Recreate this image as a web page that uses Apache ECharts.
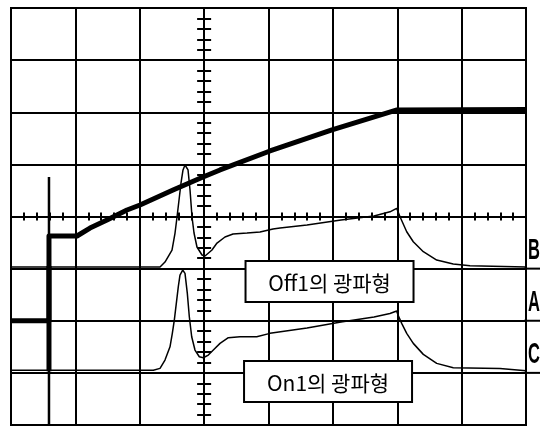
<!DOCTYPE html>
<html>
<head>
<meta charset="utf-8">
<script src="https://cdn.jsdelivr.net/npm/echarts@6/dist/echarts.min.js"></script>
<style>
html,body{margin:0;padding:0;background:#fff;}
#chart{width:548px;height:430px;}
</style>
</head>
<body>
<div id="chart"></div>
<script>
// Screen divisions: x from -3 to 5, y from -4 to 4 (0,0 = ticked centre axes)
const xDivisions = [-3, 5];
const yDivisions = [-4, 4];

// Channel A: thick ramp trace
const traceA = [
  [-3, -2.0], [-2.41, -2.0], [-2.41, -0.374], [-1.975, -0.374], [-1.773, -0.221],
  [-1.509, -0.067], [-1.198, 0.125], [-0.996, 0.221], [-0.483, 0.509], [-0.017, 0.758],
  [0.247, 0.893], [1.023, 1.257], [1.986, 1.660], [2.996, 2.044], [5, 2.054]
];

// Channel B: Off1 optical waveform
const traceOff1 = [
  [-3, -0.97], [-2.41, -0.97], [-0.685, -0.97], [-0.608, -0.873], [-0.499, -0.643],
  [-0.452, -0.317], [-0.421, -0.010], [-0.390, 0.317], [-0.359, 0.643], [-0.328, 0.893],
  [-0.297, 0.988], [-0.250, 0.893], [-0.219, 0.509], [-0.188, -0.010], [-0.157, -0.317],
  [-0.111, -0.585], [-0.033, -0.739], [0.014, -0.758], [0.122, -0.643], [0.200, -0.509],
  [0.324, -0.393], [0.449, -0.336], [0.666, -0.317], [0.868, -0.297], [1.070, -0.240],
  [1.179, -0.221], [1.598, -0.163], [2.126, -0.067], [2.639, 0.010], [2.887, 0.090],
  [2.991, 0.157], [3.043, -0.004], [3.147, -0.292], [3.249, -0.484], [3.405, -0.676],
  [3.613, -0.835], [3.870, -0.912], [4.130, -0.944], [5, -0.97]
];

// Channel C: On1 optical waveform
const traceOn1 = [
  [-3, -2.95], [-0.789, -2.95], [-0.685, -2.914], [-0.608, -2.754], [-0.530, -2.499],
  [-0.494, -2.242], [-0.463, -1.987], [-0.426, -1.603], [-0.401, -1.347], [-0.375, -1.123],
  [-0.333, -1.027], [-0.297, -1.090], [-0.261, -1.474], [-0.230, -1.923], [-0.193, -2.307],
  [-0.142, -2.562], [-0.075, -2.691], [-0.013, -2.710], [0.065, -2.658], [0.143, -2.562],
  [0.247, -2.434], [0.376, -2.326], [0.557, -2.307], [0.817, -2.307], [1.023, -2.242],
  [1.598, -2.140], [2.126, -2.025], [2.639, -1.930], [2.887, -1.860], [2.991, -1.814],
  [3.012, -1.891], [3.069, -2.050], [3.147, -2.242], [3.249, -2.434], [3.405, -2.645],
  [3.613, -2.818], [3.870, -2.902], [4.596, -2.914], [5, -2.96]
];

// Trigger edge (vertical transient)
const triggerEdge = [[-2.41, -4], [-2.41, 0.758]];
const triggerEdgeBold = [[-2.41, -0.95], [-2.41, -2.97]];

// Channel ground markers on the right edge
const channelNames = ['B', 'A', 'C'];
const channelLevels = [-1, -2, -3];

// Caption boxes (centre positions in divisions)
const captionTexts = ['Off1의 광파형', 'On1의 광파형'];
const captionX = [1.948, 1.925];
const captionY = [-1.248, -3.167];

const gridRect = {left: 11, right: 22, top: 8, bottom: 5};
const black = '#000';

function mainAxis(min, max) {
  return {
    type: 'value', min: min, max: max, interval: 1, gridIndex: 0,
    axisLine: {show: false}, axisTick: {show: false}, axisLabel: {show: false},
    splitLine: {show: true, lineStyle: {color: black, width: 2}}
  };
}
function tickAxis(min, max, gi, inside, len) {
  return {
    type: 'value', min: min, max: max, interval: 0.2, gridIndex: gi,
    axisLine: {show: true, onZero: true, lineStyle: {color: black, width: 2}},
    axisTick: {show: true, inside: inside, length: len, lineStyle: {color: black, width: 2}},
    axisLabel: {show: false}, splitLine: {show: false}
  };
}

const chart = echarts.init(document.getElementById('chart'), null, {renderer: 'canvas'});
const option = {
  animation: false,
  backgroundColor: '#fff',
  grid: [
    Object.assign({show: true, borderColor: black, borderWidth: 2, backgroundColor: '#fff'}, gridRect),
    Object.assign({show: false}, gridRect),
    Object.assign({show: false}, gridRect)
  ],
  xAxis: [
    mainAxis(xDivisions[0], xDivisions[1]),
    tickAxis(xDivisions[0], xDivisions[1], 1, true, 4),
    tickAxis(xDivisions[0], xDivisions[1], 2, false, 4)
  ],
  yAxis: [
    mainAxis(yDivisions[0], yDivisions[1]),
    tickAxis(yDivisions[0], yDivisions[1], 1, true, 7),
    tickAxis(yDivisions[0], yDivisions[1], 2, false, 7)
  ],
  series: [
    {type: 'line', name: 'A', data: traceA, symbol: 'none', z: 5,
     lineStyle: {color: black, width: 5, join: 'round'}},
    {type: 'line', name: 'B', data: traceOff1, symbol: 'none', z: 4,
     lineStyle: {color: black, width: 1.5}},
    {type: 'line', name: 'C', data: traceOn1, symbol: 'none', z: 4,
     lineStyle: {color: black, width: 1.5}},
    {type: 'line', name: 'edge', data: triggerEdge, symbol: 'none', z: 4,
     lineStyle: {color: black, width: 2.5}},
    {type: 'line', name: 'edge2', data: triggerEdgeBold, symbol: 'none', z: 4,
     lineStyle: {color: black, width: 5}},
    {
      type: 'custom', name: 'markers', z: 6, clip: false,
      data: channelLevels.map(function (v, i) { return [xDivisions[1], v, i]; }),
      renderItem: function (params, api) {
        const p = api.coord([api.value(0), api.value(1)]);
        const name = channelNames[api.value(2)];
        return {
          type: 'group',
          children: [
            {type: 'line', shape: {x1: p[0] - 2, y1: p[1], x2: p[0] + 14, y2: p[1]},
             style: {stroke: black, lineWidth: 2}},
            {type: 'text', x: p[0] + 8, y: p[1] - 3, scaleX: 0.55,
             style: {text: name, fill: black, font: 'bold 30px "Liberation Sans"',
                     align: 'center', verticalAlign: 'bottom',
                     textAlign: 'center', textVerticalAlign: 'bottom'}}
          ]
        };
      }
    },
    {
      type: 'custom', name: 'captions', z: 7, clip: false,
      data: captionTexts.map(function (t, i) { return [captionX[i], captionY[i], i]; }),
      renderItem: function (params, api) {
        const p = api.coord([api.value(0), api.value(1)]);
        const text = captionTexts[api.value(2)];
        const w = 168, h = 41;
        return {
          type: 'group',
          children: [
            {type: 'rect', shape: {x: p[0] - w / 2, y: p[1] - h / 2, width: w, height: h},
             style: {fill: '#fff', stroke: black, lineWidth: 2}},
            {type: 'text', x: p[0], y: p[1] + 1,
             style: {text: text, fill: black,
                     font: '21px "Noto Sans CJK KR", "Noto Sans", sans-serif',
                     align: 'center', verticalAlign: 'middle',
                     textAlign: 'center', textVerticalAlign: 'middle'}}
          ]
        };
      }
    }
  ]
};
chart.setOption(option);
</script>
</body>
</html>
